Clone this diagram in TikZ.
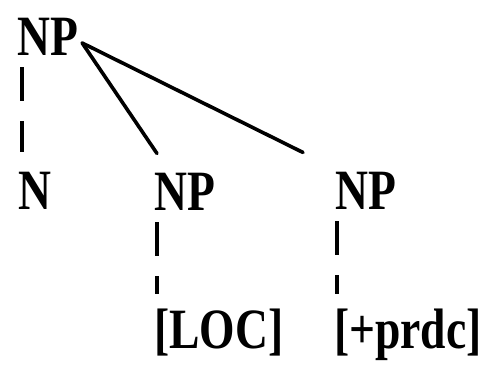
\documentclass[tikz,border=0pt]{standalone}
\usepackage{fontspec}
\setmainfont{Liberation Serif}[FakeStretch=0.8]
\usetikzlibrary{calc}
\begin{document}
\begin{tikzpicture}[x=1pt,y=-1pt,
  lbl/.style={anchor=base west,inner sep=0pt,font=\fontsize{57}{60}\selectfont\bfseries},
  branch/.style={line width=3.6pt,line cap=round},
  dl/.style={line width=3.2pt,dash pattern=on 34pt off 20pt}]
\useasboundingbox (0,0) rectangle (495,372);
\node[lbl] (npt) at (17,55) {NP};
\node[lbl] (n) at (18,209) {N};
\node[lbl] (npm) at (154,210) {NP};
\node[lbl] (npr) at (335,209) {NP};
\node[lbl] (loc) at (154,348) {[LOC]};
\node[lbl] (prdc) at (334,348) {[+prdc]};
\draw[branch] ($(npt.base east)+(4,-12)$) -- ($(npm.north west)+(3,-19)$);
\draw[branch] ($(npt.base east)+(4,-12)$) -- ($(npr.north west)+(-32,-19)$);
\draw[dl] ($(npt.base west)+(5,12)$) -- ($(n.north west)+(4,-19)$);
\draw[dl] ($(npm.base west)+(3,12)$) -- ($(loc.north west)+(3,-14)$);
\draw[dl] ($(npr.base west)+(2,12)$) -- ($(prdc.north west)+(3,-14)$);
\end{tikzpicture}
\end{document}
